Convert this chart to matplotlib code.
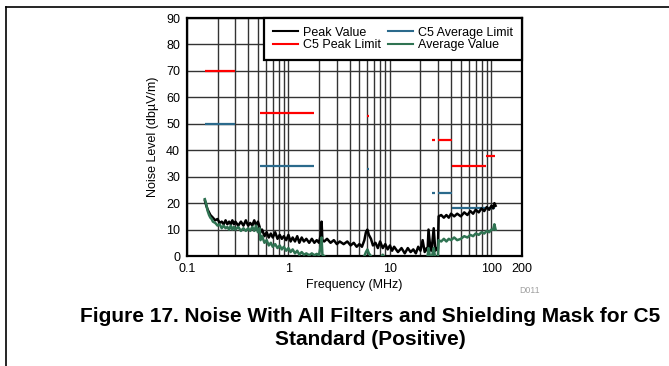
import matplotlib
matplotlib.use('Agg')
import matplotlib.pyplot as plt
from matplotlib.lines import Line2D
from matplotlib.ticker import FixedLocator, NullFormatter

plt.rcParams['font.family'] = ['Liberation Sans', 'DejaVu Sans']

freq = [0.15, 0.155, 0.16, 0.165, 0.17, 0.175, 0.18, 0.19, 0.20, 0.21,
        0.22, 0.23, 0.24, 0.25, 0.26, 0.27, 0.28, 0.29, 0.30, 0.32,
        0.34, 0.36, 0.38, 0.40, 0.42, 0.44, 0.46, 0.48, 0.50, 0.52,
        0.53, 0.55, 0.58, 0.61, 0.64, 0.67, 0.70, 0.74, 0.78, 0.82,
        0.86, 0.90, 0.95, 1.0, 1.05, 1.1, 1.16, 1.22, 1.28, 1.35,
        1.42, 1.5, 1.6, 1.7, 1.8, 1.9, 2.0, 2.08, 2.12, 2.16,
        2.25, 2.4, 2.6, 2.8, 3.0, 3.2, 3.5, 3.8, 4.1, 4.4,
        4.7, 5.0, 5.3, 5.6, 5.8, 6.0, 6.2, 6.5, 6.8, 7.2,
        7.6, 8.0, 8.5, 9.0, 9.5, 10, 10.5, 11, 12, 13,
        14, 15, 16, 17, 18, 19, 20, 21, 22, 23,
        23.5, 24, 25, 25.5, 26, 27, 28, 29, 29.7, 30.2,
        32, 34, 36, 38, 40, 43, 46, 50, 54, 58,
        62, 66, 70, 75, 80, 85, 90, 95, 100, 104,
        107, 110]

peak = [21, 19, 17.5, 16.5, 15.5, 15, 14.5, 13.5, 14, 12.5,
        13, 12, 13.5, 12, 13, 12, 13.5, 12, 13, 11.5,
        13, 11.5, 13.5, 11.5, 12.5, 11.5, 13.5, 11.5, 13, 11,
        9, 10, 7.5, 9, 7, 8.5, 7, 9, 6.5, 8,
        6.5, 7.5, 6, 8, 5.5, 7, 5.5, 7.5, 5, 7,
        5.5, 6.5, 5, 6.5, 5, 6, 5, 8, 13, 6,
        5.5, 6.5, 5, 6, 4.5, 5.5, 4.5, 5.5, 4, 5,
        3.5, 4.5, 3.5, 6, 9, 10, 8, 6.5, 4, 5,
        3, 5.5, 3, 4.5, 2.5, 4, 2, 3.5, 1.5, 3,
        1, 3, 1.5, 2.5, 1, 3.5, 2, 6, 1.5, 3,
        2, 10, 3, 2, 4, 10.5, 2, 3, 2.5, 15,
        15.5, 14.5, 15.5, 14.5, 16, 15, 16, 15, 16.5, 15.5,
        17, 16, 17.5, 16.5, 18, 17, 18.5, 17.5, 19, 18,
        20, 19]

avg = [21.5, 19.5, 17, 15.5, 14.5, 14, 13, 12.5, 11.5, 12,
       10.5, 11.5, 10.5, 11, 10, 11.5, 10, 11, 10, 11,
       9.5, 10.5, 9.5, 10.5, 9.5, 11, 9.5, 11.5, 9, 10.5,
       6, 7.5, 5, 6, 4, 5, 3.5, 4.5, 3, 4,
       2.5, 3.5, 2, 3, 1.5, 2.5, 1, 2, 0.5, 1.5,
       0.5, 1, 0.3, 1, 0.3, 0.8, 0.3, 4, 7, 0.5,
       0, -1, -2, -2, -2, -2, -2, -2, -2, -2,
       -2, -2, -1, 0, 1.5, 2.5, 1, 0, -1, -1,
       -2, -1, 0.5, -1, -2, -2, -2, -2, -2, -2,
       -2, -2, -2, -2, -2, -2, -2, -2, -1, -1,
       0, 3, -1, -1, 0, 3, -1, -1, 0, 6,
       5.5, 6.5, 5.5, 6.5, 6, 7, 6, 6.5, 7.5, 7,
       8, 7.5, 8.5, 8, 9, 8.5, 9.5, 9, 10, 10,
       12, 10]

# Grenzwerte C5 (Start, Ende, Pegel)
pk_lim_start = [0.15, 0.53, 5.9, 26, 30, 41, 88]
pk_lim_end = [0.30, 1.8, 6.2, 28, 41, 88, 108]
pk_lim_level = [70, 54, 53, 44, 44, 34, 38]

av_lim_start = [0.15, 0.53, 5.9, 26, 30, 41, 88]
av_lim_end = [0.30, 1.8, 6.2, 28, 41, 88, 108]
av_lim_level = [50, 34, 33, 24, 24, 18, 18]

x_ticks = [0.1, 1, 10, 100, 200]
x_ticklabels = ['0.1', '1', '10', '100', '200']

fig = plt.figure(figsize=(6.69, 3.66), dpi=100)
ax = fig.add_axes([0.2795, 0.3005, 0.5007, 0.6503])

rot = '#ff0000'
blau = '#2b6a8c'
gruen = '#2f7352'

ax.hlines(pk_lim_level, pk_lim_start, pk_lim_end, colors=rot, lw=1.6, zorder=3)
ax.hlines(av_lim_level, av_lim_start, av_lim_end, colors=blau, lw=1.6, zorder=3)
ax.plot(freq, peak, color='black', lw=1.8, zorder=4)
ax.plot(freq, avg, color=gruen, lw=1.8, zorder=5)

ax.set_xscale('log')
ax.set_xlim(0.1, 200)
ax.set_ylim(0, 90)
ax.set_yticks(range(0, 91, 10))
ax.xaxis.set_major_locator(FixedLocator(x_ticks))
ax.set_xticklabels(x_ticklabels)
minor = [m * 10.0 ** e for e in (-1, 0, 1) for m in range(2, 10)]
ax.xaxis.set_minor_locator(FixedLocator(minor))
ax.xaxis.set_minor_formatter(NullFormatter())
ax.grid(True, which='both', axis='x', color='#333333', lw=1.0, zorder=1)
ax.grid(True, which='major', axis='y', color='#333333', lw=1.0, zorder=1)
ax.tick_params(which='both', length=0, labelsize=9, pad=5)
for s in ax.spines.values():
    s.set_linewidth(1.6)

ax.set_xlabel('Frequency (MHz)', fontsize=9, labelpad=3)
ax.set_ylabel('Noise Level (dbµV/m)', fontsize=9, labelpad=5)

handles = [Line2D([], [], color='black', lw=1.5),
           Line2D([], [], color=rot, lw=1.5),
           Line2D([], [], color=blau, lw=1.5),
           Line2D([], [], color=gruen, lw=1.5)]
labels = ['Peak Value', 'C5 Peak Limit', 'C5 Average Limit', 'Average Value']
leg = ax.legend(handles, labels, ncol=2, loc='upper right', bbox_to_anchor=(1, 1),
                borderaxespad=0, fontsize=9, fancybox=False, framealpha=1,
                handlelength=2.0, columnspacing=0.6, handletextpad=0.4,
                labelspacing=0.05, borderpad=0.7)
leg.get_frame().set_edgecolor('black')
leg.get_frame().set_linewidth(1.6)
leg.set_zorder(10)

fig.text(0.776, 0.205, 'D011', fontsize=6.3, color='#a0a0a0', ha='left', va='center')

fig.text(0.553, 0.119, 'Figure 17. Noise With All Filters and Shielding Mask for C5',
         fontsize=15, fontweight='bold', ha='center', va='baseline')
fig.text(0.553, 0.057, 'Standard (Positive)',
         fontsize=15, fontweight='bold', ha='center', va='baseline')

# Rahmen der Seite
fig.add_artist(Line2D([0.009, 1.0], [0.981, 0.981], color='black', lw=1.2))
fig.add_artist(Line2D([0.009, 0.009], [0.0, 0.981], color='black', lw=1.2))

fig.savefig('out.png', dpi=100)
